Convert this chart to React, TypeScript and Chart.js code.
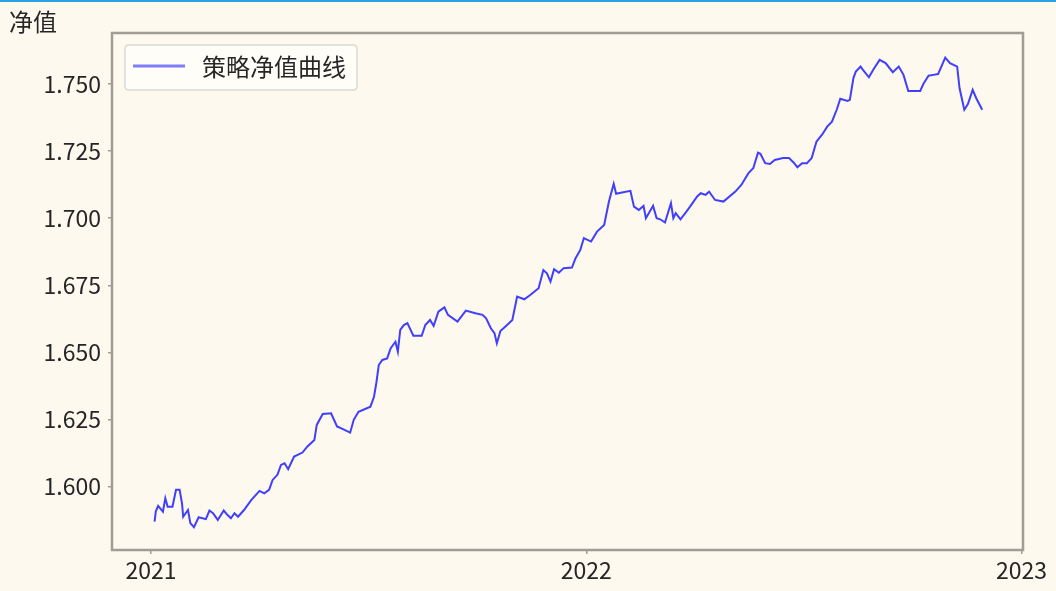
import React, { useEffect, useRef } from "react";
import { Chart, registerables } from "chart.js";

Chart.register(...registerables);

// days since 2021-01-01
const dayOffsets = [
  3, 4, 6, 10, 12, 14, 18, 21, 24, 26, 27, 31, 33, 36, 40, 46, 49, 52, 56, 61,
  64, 67, 70, 73, 78, 84, 91, 95, 99, 102, 106, 109, 112, 115, 120, 127, 131, 137, 139, 144,
  151, 156, 161, 167, 170, 174, 184, 187, 189, 191, 194, 198, 201, 205, 207, 209, 212, 215, 220, 227,
  230, 234, 237, 241, 246, 249, 257, 264, 272, 278, 281, 285, 288, 290, 293, 297, 303, 307, 313, 318,
  325, 329, 332, 335, 338, 342, 346, 353, 356, 360, 363, 369, 374, 380, 384, 388, 390, 394, 402, 405,
  409, 413, 415, 421, 424, 427, 431, 436, 438, 440, 444, 448, 452, 458, 461, 465, 468, 473, 480, 490,
  495, 501, 505, 509, 511, 515, 519, 523, 530, 535, 539, 542, 546, 550, 554, 558, 563, 567, 571, 575,
  578, 584, 586, 589, 591, 595, 597, 602, 606, 611, 616, 622, 627, 631, 635, 645, 648, 652, 656, 660,
  666, 670, 676, 678, 682, 685, 689, 692, 697,
];

const netValues = [
  1.587, 1.5907, 1.5928, 1.5907, 1.5957, 1.5925, 1.5925, 1.5988, 1.5988, 1.5938, 1.5888, 1.5913, 1.5864, 1.5849, 1.5886, 1.5879, 1.5911, 1.5901, 1.5876, 1.5911,
  1.5895, 1.5882, 1.5901, 1.5888, 1.5913, 1.595, 1.5984, 1.5975, 1.5988, 1.6025, 1.6044, 1.6081, 1.6087, 1.6065, 1.6112, 1.6127, 1.6149, 1.6174, 1.623, 1.6271,
  1.6273, 1.6224, 1.6214, 1.6201, 1.6249, 1.6279, 1.6298, 1.6335, 1.6388, 1.6453, 1.6472, 1.6478, 1.6516, 1.654, 1.6503, 1.6584, 1.6602, 1.6609, 1.6562, 1.6562,
  1.6602, 1.6621, 1.6599, 1.6652, 1.6668, 1.664, 1.6615, 1.6656, 1.6646, 1.664, 1.6627, 1.659, 1.6572, 1.6534, 1.658, 1.6596, 1.6621, 1.6708, 1.6698, 1.6714,
  1.6739, 1.6807, 1.6795, 1.6764, 1.681, 1.6797, 1.6814, 1.6816, 1.6851, 1.6882, 1.6926, 1.6913, 1.695, 1.6975, 1.7062, 1.7128, 1.7091, 1.7095, 1.7102, 1.7043,
  1.7031, 1.7046, 1.7, 1.7046, 1.7, 1.6996, 1.6984, 1.7056, 1.7, 1.7019, 1.6996, 1.7019, 1.7043, 1.7081, 1.7093, 1.7087, 1.7099, 1.7068, 1.7062, 1.7099,
  1.7124, 1.7168, 1.7186, 1.7244, 1.724, 1.7205, 1.7202, 1.7217, 1.7224, 1.7224, 1.7207, 1.719, 1.7205, 1.7205, 1.7224, 1.7285, 1.7313, 1.7341, 1.736, 1.7404,
  1.7445, 1.7437, 1.7441, 1.7522, 1.7546, 1.7565, 1.7553, 1.7525, 1.7556, 1.759, 1.7578, 1.7544, 1.7565, 1.7534, 1.7474, 1.7474, 1.7503, 1.7531, 1.7534, 1.7537,
  1.7598, 1.7578, 1.7565, 1.7484, 1.7404, 1.7425, 1.7478, 1.7447, 1.7404,
];

const xTickDays = [0, 365, 730];
const xTickLabels = ["2021", "2022", "2023"];
const seriesName = "策略净值曲线";
const yAxisTitle = "净值";

const BG = "#fdf9ef";
const FRAME = "#a19d95";
const TEXT = "#262626";
const FONT = "'Noto Sans CJK SC', 'Noto Sans', sans-serif";

export default function App() {
  const ref = useRef<HTMLCanvasElement | null>(null);

  useEffect(() => {
    document.body.style.margin = "0";
    const canvas = ref.current;
    if (!canvas) return;

    const decorPlugin = {
      id: "decor",
      beforeDraw(chart: any) {
        const { ctx, width, height } = chart;
        ctx.save();
        ctx.fillStyle = BG;
        ctx.fillRect(0, 0, width, height);
        ctx.fillStyle = "#27a2e3";
        ctx.fillRect(0, 0, width, 2);
        ctx.restore();
      },
      afterDraw(chart: any) {
        const { ctx, chartArea: a } = chart;
        ctx.save();
        // frame
        ctx.strokeStyle = FRAME;
        ctx.lineWidth = 2.5;
        ctx.strokeRect(a.left, a.top, a.right - a.left, a.bottom - a.top);
        // y-axis title at top-left
        ctx.fillStyle = TEXT;
        ctx.font = `24px ${FONT}`;
        ctx.textBaseline = "middle";
        ctx.textAlign = "left";
        ctx.fillText(yAxisTitle, 9, 22);
        // legend box
        const bx = 125, by = 45, bw = 232, bh = 45, r = 4;
        ctx.beginPath();
        ctx.moveTo(bx + r, by);
        ctx.lineTo(bx + bw - r, by);
        ctx.quadraticCurveTo(bx + bw, by, bx + bw, by + r);
        ctx.lineTo(bx + bw, by + bh - r);
        ctx.quadraticCurveTo(bx + bw, by + bh, bx + bw - r, by + bh);
        ctx.lineTo(bx + r, by + bh);
        ctx.quadraticCurveTo(bx, by + bh, bx, by + bh - r);
        ctx.lineTo(bx, by + r);
        ctx.quadraticCurveTo(bx, by, bx + r, by);
        ctx.closePath();
        ctx.fillStyle = "rgba(255,253,248,0.9)";
        ctx.fill();
        ctx.strokeStyle = "#dcd9d2";
        ctx.lineWidth = 1.5;
        ctx.stroke();
        ctx.strokeStyle = "rgba(40,40,255,0.6)";
        ctx.lineWidth = 3;
        ctx.beginPath();
        ctx.moveTo(133, 66);
        ctx.lineTo(185, 66);
        ctx.stroke();
        ctx.fillStyle = TEXT;
        ctx.font = `24px ${FONT}`;
        ctx.fillText(seriesName, 202, 67);
        ctx.restore();
      },
    };

    const chart = new Chart(canvas, {
      type: "line",
      data: {
        datasets: [
          {
            label: seriesName,
            data: dayOffsets.map((d, i) => ({ x: d, y: netValues[i] })),
            borderColor: "rgba(10,10,255,0.78)",
            borderWidth: 2,
            pointRadius: 0,
            tension: 0,
            fill: false,
          },
        ],
      },
      options: {
        animation: false,
        responsive: false,
        devicePixelRatio: 1,
        layout: { padding: { left: 0, right: 33, top: 33, bottom: 0 } },
        plugins: {
          legend: { display: false },
          tooltip: { enabled: false },
          title: { display: false },
        },
        scales: {
          x: {
            type: "linear",
            min: -32.7,
            max: 731.2,
            border: { display: false },
            grid: {
              display: true,
              drawOnChartArea: false,
              drawTicks: true,
              tickLength: 4,
              color: FRAME,
              lineWidth: 1.5,
            },
            afterBuildTicks(scale: any) {
              scale.ticks = xTickDays.map((v) => ({ value: v }));
            },
            afterFit(scale: any) {
              scale.height = 41;
            },
            ticks: {
              autoSkip: false,
              maxRotation: 0,
              padding: 2,
              color: TEXT,
              font: { family: FONT, size: 23 },
              callback: (v: any) => {
                const idx = xTickDays.indexOf(Number(v));
                return idx >= 0 ? xTickLabels[idx] : "";
              },
            },
          },
          y: {
            type: "linear",
            min: 1.5764,
            max: 1.769,
            border: { display: false },
            grid: {
              display: true,
              drawOnChartArea: false,
              drawTicks: true,
              tickLength: 4,
              color: FRAME,
              lineWidth: 1.5,
            },
            afterFit(scale: any) {
              scale.width = 112;
            },
            ticks: {
              stepSize: 0.025,
              includeBounds: false,
              padding: 7,
              color: TEXT,
              font: { family: FONT, size: 23 },
              callback: (v: any) => Number(v).toFixed(3),
            },
          },
        },
      },
      plugins: [decorPlugin],
    });

    return () => chart.destroy();
  }, []);

  return (
    <div style={{ width: 1056, height: 591, background: BG }}>
      <canvas ref={ref} width={1056} height={591} style={{ display: "block" }} />
    </div>
  );
}
